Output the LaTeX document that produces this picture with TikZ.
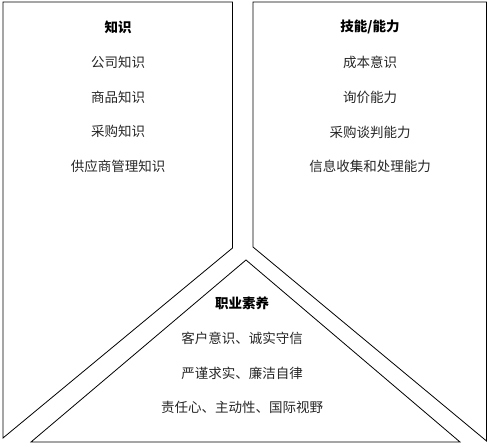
\documentclass[tikz,border=0pt]{standalone}
\usepackage{fontspec}
\setmainfont{Noto Sans CJK SC}
\usepackage{tikz}

\tikzset{
    panel/.style={thick, draw=black, line join=miter},
    title/.style={font=\fontsize{13.5}{16}\selectfont\bfseries},
    item/.style={font=\fontsize{13.5}{16}\selectfont, text=black!85}
}

\begin{document}
\begin{tikzpicture}[x=1pt, y=-1pt]
    %% Background
    \useasboundingbox (0,0) rectangle (488,446);

    %% Panels
    \draw[panel] (3,2) -- (232.5,2) -- (232.5,248) -- (3,438) -- cycle;
    \draw[panel] (253,2) -- (486.5,2) -- (486.5,441) -- (253,247) -- cycle;
    \draw[panel] (246,260) -- (460,442) -- (31,442) -- cycle;

    %% Knowledge
    \node[title] (zhishi) at (118,27) {知识};
    \node[item] (gongsi) at (118,62) {公司知识};
    \node[item] (shangpin) at (118,97) {商品知识};
    \node[item] (caigou) at (118,131) {采购知识};
    \node[item] (gongying) at (118,166) {供应商管理知识};

    %% Skills
    \node[title] (jineng) at (370,27) {技能/能力};
    \node[item] (chengben) at (370,62) {成本意识};
    \node[item] (xunjia) at (370,97) {询价能力};
    \node[item] (tanpan) at (370,132) {采购谈判能力};
    \node[item] (xinxi) at (370,166) {信息收集和处理能力};

    %% Professionalism
    \node[title] (suyang) at (242,303) {职业素养};
    \node[item] (kehu) at (242,338) {客户意识、诚实守信};
    \node[item] (yanjin) at (242,373) {严谨求实、廉洁自律};
    \node[item] (zeren) at (242,407) {责任心、主动性、国际视野};

\end{tikzpicture}
\end{document}
